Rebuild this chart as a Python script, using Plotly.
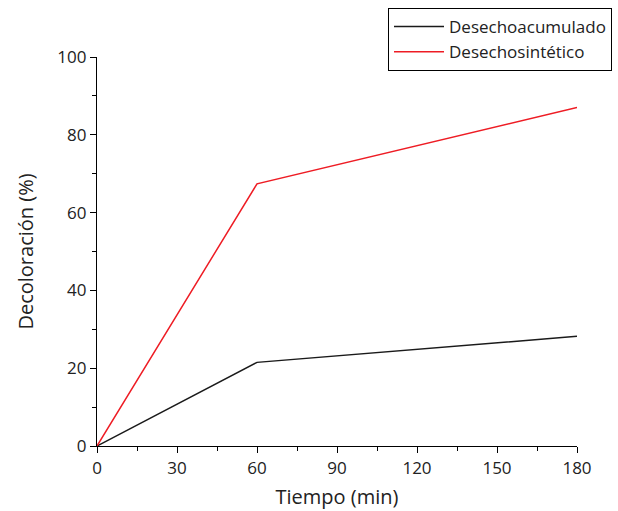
import plotly.graph_objects as go

tiempo = [0, 60, 180]
acumulado = [0, 21.5, 28.2]
sintetico = [0, 67.4, 87.0]
series_names = ["Desechoacumulado", "Desechosintético"]

FONT = "Open Sans"

fig = go.Figure()
fig.add_trace(go.Scatter(x=tiempo, y=acumulado, mode="lines", name=series_names[0],
                         line=dict(color="#1a1a1a", width=1.5)))
fig.add_trace(go.Scatter(x=tiempo, y=sintetico, mode="lines", name=series_names[1],
                         line=dict(color="#ee1c24", width=1.5)))

axis_common = dict(showline=True, linecolor="black", linewidth=1.2, showgrid=False,
                   zeroline=False, ticks="outside", ticklen=6, tickcolor="black",
                   tickfont=dict(family=FONT, size=17, color="#222"),
                   mirror=False)

fig.update_layout(
    width=618, height=511,
    margin=dict(l=97, r=41, t=57, b=65, autoexpand=False),
    paper_bgcolor="white", plot_bgcolor="white",
    xaxis=dict(range=[0, 180], tickvals=[0, 30, 60, 90, 120, 150, 180],
               minor=dict(dtick=15, ticks="outside", ticklen=4, tickcolor="black"),
               title=dict(text="Tiempo (min)", font=dict(family=FONT, size=20, color="#222"), standoff=12),
               **axis_common),
    yaxis=dict(range=[0, 100], tickvals=[0, 20, 40, 60, 80, 100],
               minor=dict(dtick=10, ticks="outside", ticklen=4, tickcolor="black"),
               title=dict(text="Decoloración (%)", font=dict(family=FONT, size=20, color="#222"), standoff=18),
               **axis_common),
    legend=dict(x=(388 - 97) / 480, y=1 + (57 - 8) / 389, xanchor="left", yanchor="top",
                bordercolor="black", borderwidth=1,
                font=dict(family=FONT, size=17, color="#222"),
                tracegroupgap=0, itemwidth=50),
    showlegend=True,
)

fig.write_html("out.html")
